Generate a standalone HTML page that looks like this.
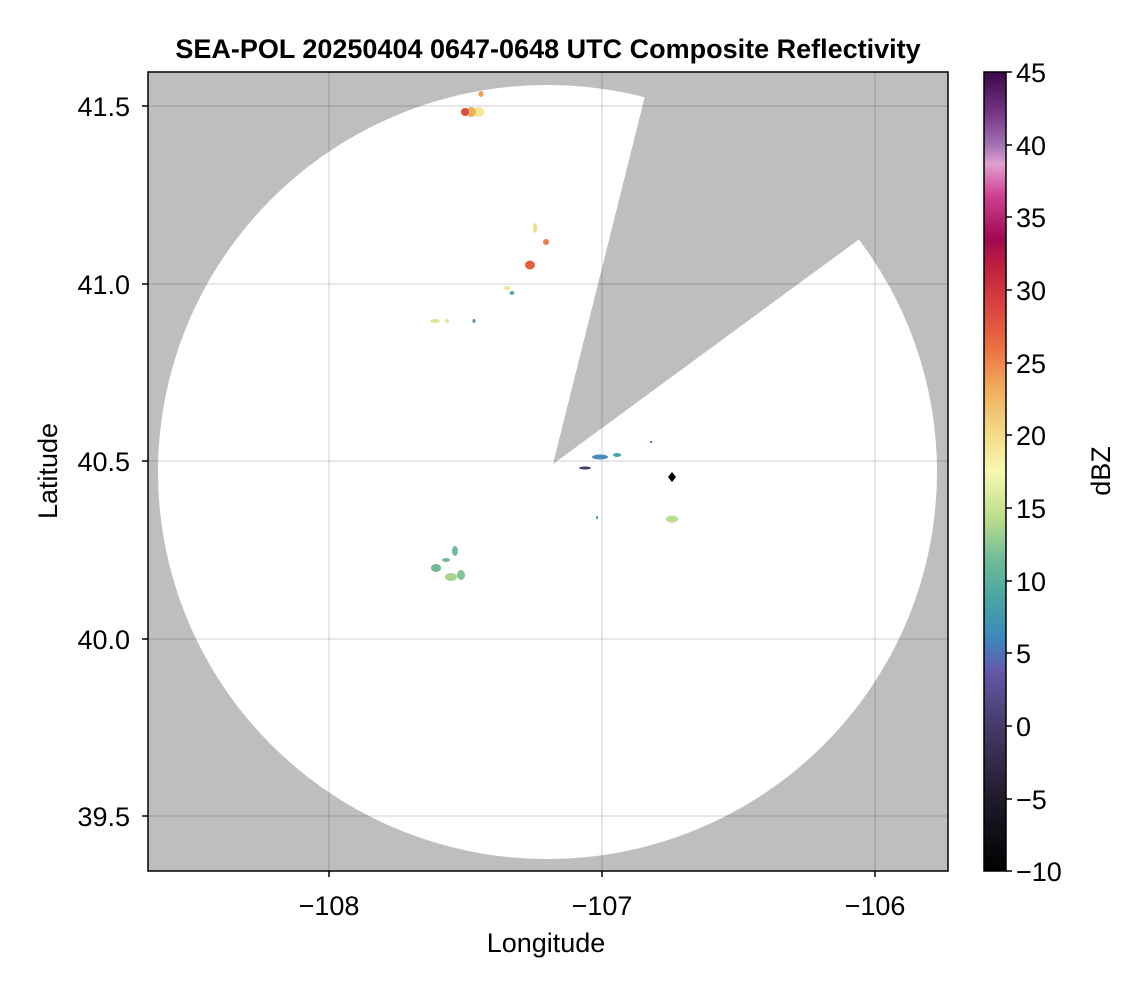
<!DOCTYPE html>
<html><head><meta charset="utf-8"><style>
body{margin:0;background:#fff;width:1146px;height:990px;overflow:hidden}
svg{display:block;font-family:"Liberation Sans",sans-serif}
</style></head><body>
<svg width="1146" height="990" viewBox="0 0 1146 990">
<defs>
<clipPath id="pa"><rect x="148" y="72" width="800" height="799"/></clipPath>
<linearGradient id="cb" x1="0" y1="1" x2="0" y2="0">
<stop offset="0" stop-color="#000000"/>
<stop offset="0.09" stop-color="#201a2a"/>
<stop offset="0.18" stop-color="#453a68"/>
<stop offset="0.25" stop-color="#6558a8"/>
<stop offset="0.29" stop-color="#3c88bc"/>
<stop offset="0.34" stop-color="#48a4a4"/>
<stop offset="0.39" stop-color="#70bc98"/>
<stop offset="0.44" stop-color="#b8dc8c"/>
<stop offset="0.50" stop-color="#f8f8b0"/>
<stop offset="0.545" stop-color="#f2dc88"/>
<stop offset="0.60" stop-color="#f0b060"/>
<stop offset="0.655" stop-color="#ec7040"/>
<stop offset="0.71" stop-color="#d84040"/>
<stop offset="0.756" stop-color="#c02040"/>
<stop offset="0.79" stop-color="#a00850"/>
<stop offset="0.845" stop-color="#d04090"/>
<stop offset="0.885" stop-color="#e0a0d0"/>
<stop offset="0.91" stop-color="#a070b0"/>
<stop offset="0.945" stop-color="#7a3a8a"/>
<stop offset="1" stop-color="#3a0848"/>
</linearGradient>
</defs>
<text x="548" y="58" text-anchor="middle" font-size="27" font-weight="bold">SEA-POL 20250404 0647-0648 UTC Composite Reflectivity</text>
<g clip-path="url(#pa)">
<rect x="148" y="72" width="800" height="799" fill="#bebebe"/>
<ellipse cx="547.5" cy="472" rx="389.5" ry="387" fill="#fff"/>
<polygon points="553,464 651,72 948,72 948,174" fill="#bebebe"/>
<g stroke="#000" stroke-opacity="0.12" stroke-width="1.5">
<line x1="329" y1="72" x2="329" y2="871"/><line x1="602" y1="72" x2="602" y2="871"/><line x1="875" y1="72" x2="875" y2="871"/>
<line x1="148" y1="106" x2="948" y2="106"/><line x1="148" y1="284" x2="948" y2="284"/><line x1="148" y1="461" x2="948" y2="461"/><line x1="148" y1="639" x2="948" y2="639"/><line x1="148" y1="816" x2="948" y2="816"/>
</g>
<ellipse cx="478" cy="112" rx="6" ry="5" fill="#f4e890"/>
<ellipse cx="471" cy="112" rx="5" ry="5" fill="#f0b060"/>
<ellipse cx="465" cy="112" rx="4" ry="4" fill="#dc4a40"/>
<ellipse cx="481" cy="94" rx="2.5" ry="3" fill="#f0a050"/>
<ellipse cx="535" cy="228" rx="2" ry="5" fill="#f2dc88"/>
<ellipse cx="546" cy="242" rx="3" ry="3" fill="#ec7a44"/>
<ellipse cx="530" cy="265" rx="5" ry="4.5" fill="#e26040"/>
<ellipse cx="507" cy="288" rx="3" ry="2" fill="#f2e48c"/>
<ellipse cx="512" cy="293" rx="2.5" ry="2" fill="#58aca0"/>
<ellipse cx="435" cy="321" rx="5" ry="2" fill="#dce894"/>
<ellipse cx="447" cy="321" rx="2" ry="2" fill="#dce894"/>
<ellipse cx="474" cy="321" rx="1.5" ry="2" fill="#6090b0"/>
<ellipse cx="600" cy="457" rx="8" ry="2.5" fill="#4a8cb8"/>
<ellipse cx="617" cy="455" rx="4" ry="2" fill="#48a4a4"/>
<ellipse cx="585" cy="468" rx="6" ry="1.5" fill="#453a68"/>
<rect x="650" y="441" width="2" height="2" fill="#4a78bc"/>
<polygon points="672,472 676,477 672,482 668,477" fill="#000"/>
<ellipse cx="672" cy="519" rx="6" ry="3.5" fill="#b8dc90"/>
<rect x="596" y="516" width="2" height="3" fill="#48a4a4"/>
<ellipse cx="455" cy="551" rx="3" ry="5" fill="#70bc98"/>
<ellipse cx="446" cy="560" rx="4" ry="2" fill="#70bc98"/>
<ellipse cx="436" cy="568" rx="5" ry="4" fill="#70bc98"/>
<ellipse cx="451" cy="577" rx="6" ry="4" fill="#a8d490"/>
<ellipse cx="461" cy="575" rx="4" ry="5" fill="#80c498"/>
</g>
<rect x="148" y="72" width="800" height="799" fill="none" stroke="#000" stroke-width="1.5"/>
<g stroke="#000" stroke-width="1.5">
<line x1="329" y1="871" x2="329" y2="877"/><line x1="602" y1="871" x2="602" y2="877"/><line x1="875" y1="871" x2="875" y2="877"/>
<line x1="142" y1="106" x2="148" y2="106"/><line x1="142" y1="284" x2="148" y2="284"/><line x1="142" y1="461" x2="148" y2="461"/><line x1="142" y1="639" x2="148" y2="639"/><line x1="142" y1="816" x2="148" y2="816"/>
</g>
<g font-size="27" text-anchor="middle">
<text x="329" y="915">−108</text><text x="602" y="915">−107</text><text x="875" y="915">−106</text>
<text x="546" y="952">Longitude</text>
</g>
<g font-size="27" text-anchor="end">
<text x="130" y="116">41.5</text><text x="130" y="294">41.0</text><text x="130" y="471">40.5</text><text x="130" y="649">40.0</text><text x="130" y="826">39.5</text>
</g>
<text transform="translate(57,471) rotate(-90)" font-size="27" text-anchor="middle">Latitude</text>
<rect x="984" y="72" width="22" height="799" fill="url(#cb)" stroke="#000" stroke-width="1.5"/>
<g stroke="#000" stroke-width="1.5">
<line x1="1006" y1="72" x2="1012" y2="72"/><line x1="1006" y1="145" x2="1012" y2="145"/><line x1="1006" y1="217" x2="1012" y2="217"/><line x1="1006" y1="290" x2="1012" y2="290"/><line x1="1006" y1="363" x2="1012" y2="363"/><line x1="1006" y1="435" x2="1012" y2="435"/><line x1="1006" y1="508" x2="1012" y2="508"/><line x1="1006" y1="581" x2="1012" y2="581"/><line x1="1006" y1="653" x2="1012" y2="653"/><line x1="1006" y1="726" x2="1012" y2="726"/><line x1="1006" y1="799" x2="1012" y2="799"/><line x1="1006" y1="871" x2="1012" y2="871"/>
</g>
<g font-size="27">
<text x="1016" y="82">45</text><text x="1016" y="155">40</text><text x="1016" y="227">35</text><text x="1016" y="300">30</text><text x="1016" y="373">25</text><text x="1016" y="445">20</text><text x="1016" y="518">15</text><text x="1016" y="591">10</text><text x="1016" y="663">5</text><text x="1016" y="736">0</text><text x="1016" y="809">−5</text><text x="1016" y="881">−10</text>
</g>
<text transform="translate(1110,471) rotate(-90)" font-size="27" text-anchor="middle">dBZ</text>
</svg>
</body></html>
